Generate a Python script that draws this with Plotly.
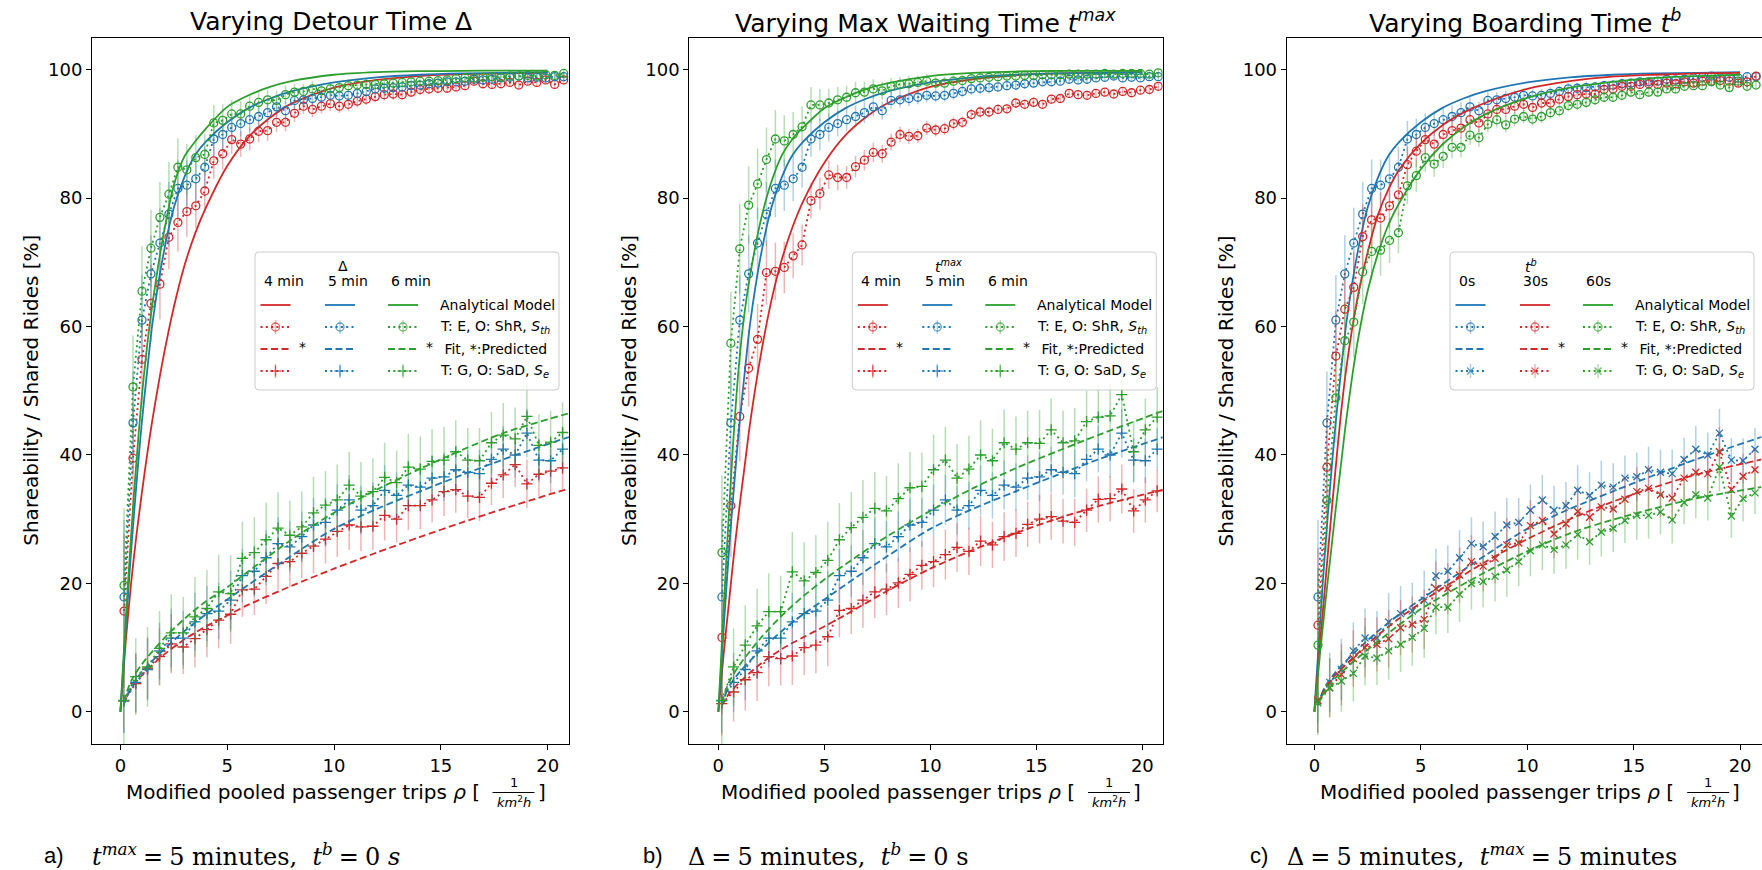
import plotly.graph_objects as go

W, H = 1762, 870
RED, BLUE, GREEN = "#d62728", "#1f77b4", "#2ca02c"
ECOL = {RED: "rgba(214,39,40,0.35)", BLUE: "rgba(31,119,180,0.35)", GREEN: "rgba(44,160,44,0.35)"}
FONT = "DejaVu Sans"

X_TICKS = [0, 5, 10, 15, 20]
Y_TICKS = [0, 20, 40, 60, 80, 100]

# x positions of the series
X_SHR = [0.17, 0.59, 1.01, 1.43, 1.85, 2.27, 2.69, 3.11, 3.53, 3.95,
         4.37, 4.79, 5.21, 5.63, 6.05, 6.47, 6.89, 7.31, 7.73, 8.15,
         8.57, 8.99, 9.41, 9.83, 10.25, 10.67, 11.09, 11.51, 11.93, 12.35,
         12.77, 13.19, 13.61, 14.03, 14.45, 14.87, 15.29, 15.71, 16.13, 16.55,
         16.97, 17.39, 17.81, 18.23, 18.65, 19.07, 19.49, 19.91, 20.33, 20.75]
X_SAD = [0.16, 0.72, 1.27, 1.83, 2.38, 2.94, 3.49, 4.05, 4.60, 5.16,
         5.71, 6.27, 6.82, 7.38, 7.93, 8.49, 9.04, 9.60, 10.15, 10.71,
         11.26, 11.82, 12.37, 12.93, 13.48, 14.04, 14.59, 15.15, 15.70, 16.26,
         16.81, 17.37, 17.92, 18.48, 19.03, 19.59, 20.14, 20.70]
X_MODEL = [0, 0.25, 0.5, 0.75, 1, 1.25, 1.5, 2, 2.5, 3, 3.5, 4, 5, 6, 7, 8, 10, 12, 14, 16, 18, 20]
X_FIT = [0.15, 0.5, 1, 2, 3, 4, 5, 6, 8, 10, 12, 14, 16, 18, 21]

# baseline (Delta=5 min, t_max=5 min, t_b=0 s) - shared by all panels
MODEL_BASE = [0, 13, 25, 35.5, 45, 53, 60.5, 71, 78.5, 83.3, 86.7, 88.8, 91.8, 94.0, 95.5, 96.6, 98.0, 98.8, 99.2, 99.4, 99.5, 99.6]
SHR_BASE = [17.9, 45.0, 61.0, 68.2, 73.0, 77.5, 81.5, 82.0, 83.0, 84.8,
            89.2, 89.9, 91.0, 91.6, 92.2, 92.7, 93.3, 94.2, 93.6, 95.2,
            95.3, 95.5, 95.7, 96.0, 95.9, 96.0, 96.3, 96.6, 97.0, 97.1,
            97.2, 97.3, 97.5, 97.6, 97.8, 97.9, 98.1, 98.1, 98.2, 98.5,
            98.4, 98.5, 98.7, 98.8, 99.0, 98.7, 98.8, 98.7, 98.9, 98.9]
FIT_BASE = [1.1, 3.9, 6.2, 9.6, 12.6, 15.2, 17.5, 19.8, 24.3, 28.5, 31.6, 34.3, 36.9, 39.4, 42.8]
SAD_BASE = [1.7, 4.6, 6.6, 9.5, 11.5, 11.5, 14.0, 15.3, 15.7, 17.4,
            21.2, 21.9, 24.0, 26.2, 25.7, 27.3, 29.1, 29.5, 31.4, 33.0,
            31.4, 32.1, 34.5, 33.7, 35.3, 35.0, 36.4, 36.6, 37.7, 37.3,
            37.1, 39.3, 40.9, 40.0, 43.4, 39.2, 39.1, 40.9]

# panel a: detour 4 min (red) / 6 min (green)
MODEL_D4 = [0, 11, 20, 27.5, 34, 40, 45.5, 55, 63, 69.5, 74.5, 78.5, 85, 89.5, 92.5, 94.7, 97.2, 98.4, 99.0, 99.3, 99.4, 99.5]
SHR_D4 = [15.7, 39.5, 54.9, 63.6, 66.6, 73.9, 76.2, 77.9, 78.8, 81.1,
          85.8, 86.9, 89.1, 88.4, 89.2, 90.4, 90.5, 91.8, 91.8, 93.2,
          94.3, 93.8, 94.3, 94.7, 94.3, 94.6, 95.1, 95.4, 95.8, 96.1,
          96.2, 96.1, 96.5, 96.9, 97.0, 97.1, 97.1, 97.3, 97.5, 98.2,
          97.8, 97.7, 97.8, 98.0, 97.6, 98.2, 98.0, 98.4, 97.7, 98.4]
FIT_D4 = [1.2, 3.6, 5.7, 8.8, 11.3, 13.3, 15.0, 16.7, 19.6, 22.3, 24.8, 27.2, 29.5, 31.7, 34.8]
SAD_D4 = [1.7, 4.4, 6.8, 8.6, 10.6, 10.1, 11.4, 12.8, 14.3, 15.2,
          19.0, 19.1, 21.1, 23.1, 23.4, 24.7, 25.8, 26.9, 28.1, 29.1,
          28.8, 28.9, 30.6, 30.0, 32.1, 32.1, 33.0, 34.3, 34.6, 33.6,
          33.4, 35.6, 36.9, 38.5, 35.5, 37.0, 37.5, 38.0]
MODEL_D6 = [0, 14.5, 27.5, 39, 49, 57, 63.5, 74, 82, 86.5, 88.8, 90.8, 94.2, 96.0, 97.3, 98.2, 99.2, 99.6, 99.75, 99.8, 99.85, 99.85]
SHR_D6 = [19.7, 50.6, 65.5, 72.2, 77.0, 80.6, 84.8, 84.4, 86.3, 86.8,
          91.7, 92.1, 93.1, 93.1, 94.3, 94.9, 95.3, 95.2, 96.1, 96.5,
          96.6, 97.0, 96.7, 97.0, 97.2, 97.5, 97.6, 97.7, 97.7, 97.8,
          97.9, 98.0, 98.1, 98.2, 98.2, 98.3, 98.4, 98.6, 98.7, 98.7,
          98.8, 98.9, 98.8, 99.0, 99.0, 99.1, 99.0, 99.2, 99.1, 99.4]
FIT_D6 = [1.6, 4.8, 7.4, 11.3, 14.5, 17.2, 19.4, 21.9, 26.8, 31.0, 34.6, 37.8, 40.8, 43.5, 46.5]
SAD_D6 = [1.8, 5.5, 7.0, 9.9, 12.3, 12.3, 14.8, 16.1, 18.7, 18.4,
          23.9, 24.8, 26.8, 28.6, 27.5, 28.8, 31.0, 32.2, 33.0, 35.3,
          33.6, 34.3, 36.5, 35.7, 38.1, 37.8, 39.0, 39.2, 40.5, 39.2,
          39.1, 41.9, 43.1, 42.5, 46.0, 41.5, 42.0, 43.5]

# panel b: max waiting 4 min (red) / 6 min (green)
MODEL_W4 = [0, 9, 17, 25, 32, 38.5, 45, 55.5, 64, 70.5, 75.5, 79.5, 85.5, 89.8, 92.7, 94.8, 97.3, 98.5, 99.1, 99.4, 99.5, 99.6]
SHR_W4 = [11.6, 32.1, 46.0, 53.5, 58.0, 68.4, 68.6, 69.2, 71.0, 72.7,
          79.6, 80.7, 83.6, 83.2, 83.2, 84.9, 85.9, 87.1, 86.9, 88.7,
          89.9, 89.6, 89.7, 90.9, 90.6, 90.8, 91.6, 91.8, 93.0, 93.4,
          93.4, 93.8, 93.9, 94.8, 94.6, 94.9, 94.6, 95.4, 95.5, 96.3,
          96.1, 96.0, 96.3, 96.5, 96.2, 96.6, 96.4, 96.8, 96.9, 97.4]
FIT_W4 = [0.9, 2.8, 4.6, 7.5, 9.8, 11.6, 13.3, 15.1, 18.9, 22.3, 25.2, 27.8, 30.1, 32.1, 34.6]
SAD_W4 = [1.3, 3.1, 5.0, 6.1, 8.6, 8.3, 8.7, 10.0, 10.4, 11.7,
          15.8, 16.1, 17.4, 18.7, 19.1, 20.1, 21.4, 22.8, 23.4, 24.5,
          25.6, 25.0, 26.6, 26.0, 27.3, 27.8, 29.2, 30.0, 30.4, 29.7,
          29.5, 31.4, 33.1, 33.2, 34.7, 31.3, 33.0, 34.4]
MODEL_W6 = [0, 16, 31, 44.5, 55, 62.5, 68, 76.5, 82.5, 86.7, 89.2, 91.0, 94.0, 95.7, 97.0, 97.9, 99.0, 99.5, 99.7, 99.8, 99.8, 99.8]
SHR_W6 = [24.8, 57.4, 72.1, 78.9, 82.2, 86.0, 89.2, 88.9, 89.9, 91.1,
          94.5, 94.5, 94.8, 95.3, 95.7, 96.4, 96.5, 97.0, 96.7, 97.4,
          97.7, 97.8, 98.0, 98.2, 97.9, 97.9, 98.2, 98.3, 98.6, 98.7,
          98.8, 98.9, 99.0, 99.0, 99.1, 99.1, 99.2, 99.2, 99.2, 99.3,
          99.3, 99.3, 99.3, 99.4, 99.3, 99.4, 99.4, 99.4, 99.3, 99.5]
FIT_W6 = [1.4, 4.6, 7.3, 11.5, 15.0, 18.0, 20.6, 23.0, 27.4, 31.3, 34.8, 37.9, 40.6, 43.2, 46.9]
SAD_W6 = [1.8, 7.0, 10.4, 13.4, 15.6, 15.6, 21.8, 20.4, 21.7, 23.6,
          26.8, 28.7, 30.3, 31.7, 31.3, 33.2, 34.9, 35.1, 37.7, 39.2,
          36.4, 37.8, 40.0, 39.1, 41.9, 40.9, 41.9, 41.8, 43.9, 41.9,
          42.2, 45.2, 45.9, 46.1, 49.4, 40.5, 43.9, 45.9]

# panel c: boarding 30 s (red) / 60 s (green)
MODEL_B30 = [0, 10, 19.5, 29, 38, 46.5, 53.5, 64, 71.5, 77.5, 81.5, 84.5, 88.5, 91.3, 93.3, 94.8, 97.0, 98.2, 98.9, 99.2, 99.4, 99.5]
SHR_B30 = [13.5, 38.1, 55.4, 62.7, 66.1, 74.0, 76.6, 76.9, 78.8, 80.5,
           85.2, 87.3, 89.1, 88.4, 89.9, 90.5, 90.9, 92.2, 91.7, 93.1,
           93.8, 93.8, 94.3, 94.6, 94.1, 94.8, 94.8, 95.4, 95.8, 96.1,
           96.2, 96.2, 96.9, 97.0, 97.4, 97.4, 97.7, 97.8, 97.7, 97.9,
           97.8, 98.1, 97.9, 98.2, 98.2, 98.3, 98.2, 97.9, 98.1, 99.0]
FIT_B30 = [1.1, 3.6, 5.8, 9.0, 12.0, 14.6, 17.0, 19.2, 23.3, 26.9, 30.0, 32.7, 35.0, 37.0, 39.3]
SAD_B30 = [1.8, 3.75, 5.8, 8.3, 10.0, 10.5, 11.4, 13.1, 13.6, 14.4,
           19.2, 19.2, 21.3, 23.4, 22.7, 23.9, 26.0, 26.3, 29.0, 29.8,
           27.7, 29.3, 31.2, 30.3, 31.9, 31.6, 33.1, 34.3, 34.8, 33.8,
           33.3, 36.4, 37.3, 37.1, 40.5, 34.6, 36.7, 37.7]
MODEL_B60 = [0, 8.5, 16.5, 24, 31.5, 38.5, 45.5, 57, 65.5, 71.5, 76, 79.3, 84.5, 88.3, 91, 93, 95.6, 97.2, 98.1, 98.7, 99.0, 99.2]
SHR_B60 = [10.4, 32.9, 48.9, 57.8, 60.7, 68.5, 71.7, 71.9, 73.4, 74.6,
           81.9, 83.5, 86.3, 85.3, 86.5, 87.9, 87.9, 89.8, 89.4, 91.5,
           92.2, 91.4, 92.3, 92.7, 92.3, 92.7, 93.3, 93.6, 94.4, 94.6,
           94.9, 95.3, 95.7, 95.7, 96.0, 96.5, 96.1, 96.5, 96.5, 97.0,
           97.0, 97.4, 97.5, 97.5, 98.1, 97.6, 97.2, 98.2, 97.4, 97.6]
FIT_B60 = [1.0, 3.3, 5.3, 8.3, 11.0, 13.6, 16.0, 18.0, 21.7, 25.0, 27.8, 29.9, 31.7, 33.3, 35.0]
SAD_B60 = [1.4, 3.75, 4.8, 6.0, 8.7, 8.4, 9.5, 10.5, 11.6, 13.0,
           16.3, 16.3, 18.3, 20.0, 20.3, 21.1, 22.1, 23.4, 25.1, 26.0,
           25.3, 26.0, 27.6, 26.5, 28.0, 28.6, 29.8, 30.6, 30.6, 31.1,
           29.9, 32.6, 33.8, 33.3, 38.1, 30.5, 33.2, 34.1]

# error bars (half-widths)
ERR_SHR = [12, 8, 7, 6, 5.5, 5, 4.5, 4, 3.5, 3.2,
           2.8, 2.5, 2.2, 2.0, 1.8, 1.7, 1.6, 1.5, 1.4, 1.3,
           1.2, 1.2, 1.1, 1.1, 1.0, 1.0, 1.0, 0.9, 0.9, 0.9,
           0.9, 0.8, 0.8, 0.8, 0.8, 0.8, 0.7, 0.7, 0.7, 0.7,
           0.7, 0.7, 0.6, 0.6, 0.6, 0.6, 0.6, 0.6, 0.6, 0.6]
ERR_SAD = [5.0, 4.6, 4.8, 4.4, 4.6, 4.2, 4.5, 4.3, 4.4, 4.6,
           4.2, 4.0, 4.3, 4.1, 4.0, 3.9, 4.2, 3.8, 4.0, 3.9,
           3.8, 3.7, 3.9, 3.6, 3.8, 3.7, 3.5, 3.8, 3.6, 3.5,
           3.7, 3.4, 3.6, 3.5, 3.8, 3.4, 3.5, 3.3]
ERR_SAD_WIDE = [7.0, 6.0, 6.2, 5.8, 6.0, 5.6, 6.2, 6.0, 5.8, 6.0,
                5.7, 5.5, 5.8, 5.6, 5.4, 5.5, 5.6, 5.3, 5.5, 5.2,
                5.3, 5.2, 5.4, 5.0, 5.2, 5.1, 5.0, 5.2, 4.9, 5.0,
                5.1, 4.8, 5.0, 4.9, 5.2, 4.8, 4.9, 4.7]

TITLES = ["Varying Detour Time Δ",
          "Varying Max Waiting Time <i>t</i><sup><i>max</i></sup>",
          "Varying Boarding Time <i>t</i><sup><i>b</i></sup>"]
LEG_HEAD = ["Δ", "<i>t</i><sup><i>max</i></sup>", "<i>t</i><sup><i>b</i></sup>"]
LEG_COLS = [["4 min", "5 min", "6 min"], ["4 min", "5 min", "6 min"], ["0s", "30s", "60s"]]
LEG_LABELS = ["Analytical Model", "T: E, O: ShR, <i>S</i><sub><i>th</i></sub>",
              " Fit, *:Predicted", "T: G, O: SaD, <i>S</i><sub><i>e</i></sub>"]
CAP_LETTER = ["a)", "b)", "c)"]
SP = "\u2005"  # math-like spacing around '='
CAP_TEXT = [f"<i>t</i><sup><i>max</i></sup>{SP}={SP}5 minutes,  <i>t</i><sup><i>b</i></sup>{SP}={SP}0 <i>s</i>",
            f"Δ{SP}={SP}5 minutes,  <i>t</i><sup><i>b</i></sup>{SP}={SP}0 s",
            f"Δ{SP}={SP}5 minutes,  <i>t</i><sup><i>max</i></sup>{SP}={SP}5 minutes"]

# series per panel: (color, model, shr, fit, sad, sad_err, predicted)
PANEL_SERIES = [
    [(RED, MODEL_D4, SHR_D4, FIT_D4, SAD_D4, ERR_SAD, True),
     (BLUE, MODEL_BASE, SHR_BASE, FIT_BASE, SAD_BASE, ERR_SAD, False),
     (GREEN, MODEL_D6, SHR_D6, FIT_D6, SAD_D6, ERR_SAD_WIDE, True)],
    [(RED, MODEL_W4, SHR_W4, FIT_W4, SAD_W4, ERR_SAD, True),
     (BLUE, MODEL_BASE, SHR_BASE, FIT_BASE, SAD_BASE, ERR_SAD, False),
     (GREEN, MODEL_W6, SHR_W6, FIT_W6, SAD_W6, ERR_SAD_WIDE, True)],
    [(BLUE, MODEL_BASE, SHR_BASE, FIT_BASE, SAD_BASE, ERR_SAD, False),
     (RED, MODEL_B30, SHR_B30, FIT_B30, SAD_B30, ERR_SAD, True),
     (GREEN, MODEL_B60, SHR_B60, FIT_B60, SAD_B60, ERR_SAD, True)],
]
SAD_SYMBOL = ["cross-thin-open", "cross-thin-open", "x-thin-open"]
SAD_SIZE = [8, 8, 7]

# ---------- layout geometry (pixels) ----------
AX_L = [92, 689.3, 1286.7]
AX_R = [569, 1162.7, 1762]
AX_T, AX_B = 37.5, 744
X_RANGES = [[-1.33, 21.0], [-1.37, 20.96], [-1.3, 21.03]]
LEG_L = [255, 852.3, 1450]
LEG_HEAD_DX = [88, 96, 81]
DOT = "2px,3.3px"
DASH = "7px,3.5px"
LW = 1.8


def px(x):
    return x / W


def py(y):
    return 1 - y / H


fig = go.Figure()
annotations = []
shapes = []


def ann(text, x, y, size, xanchor="center", yanchor="middle", family=FONT, angle=0):
    annotations.append(dict(text=text, x=px(x), y=py(y), xref="paper", yref="paper",
                            showarrow=False, xanchor=xanchor, yanchor=yanchor, textangle=angle,
                            font=dict(family=family, size=size, color="black")))


for p in range(3):
    xa = "x" if p == 0 else f"x{p + 1}"
    ya = "y" if p == 0 else f"y{p + 1}"
    for (col, model, shr, fit, sad, sad_err, pred) in PANEL_SERIES[p]:
        fig.add_trace(go.Scatter(x=X_MODEL, y=model, mode="lines", xaxis=xa, yaxis=ya,
                                 line=dict(color=col, width=LW, shape="spline", smoothing=0.8),
                                 showlegend=False, hoverinfo="skip"))
        fig.add_trace(go.Scatter(x=X_SHR, y=shr, mode="lines+markers", xaxis=xa, yaxis=ya,
                                 line=dict(color=col, width=LW, dash=DOT),
                                 marker=dict(symbol="circle-open", size=8, color=col, line=dict(width=1.3, color=col)),
                                 error_y=dict(type="data", array=ERR_SHR, color=ECOL[col], thickness=1.5, width=0),
                                 showlegend=False, hoverinfo="skip"))
        fig.add_trace(go.Scatter(x=X_FIT, y=fit, mode="lines", xaxis=xa, yaxis=ya,
                                 line=dict(color=col, width=LW, dash=DASH, shape="spline", smoothing=0.8),
                                 showlegend=False, hoverinfo="skip"))
        fig.add_trace(go.Scatter(x=X_SAD, y=sad, mode="lines+markers", xaxis=xa, yaxis=ya,
                                 line=dict(color=col, width=LW, dash=DOT),
                                 marker=dict(symbol=SAD_SYMBOL[p], size=SAD_SIZE[p], color=col,
                                             line=dict(width=1.3, color=col)),
                                 error_y=dict(type="data", array=sad_err, color=ECOL[col], thickness=1.5, width=0),
                                 showlegend=False, hoverinfo="skip"))

    # ---- titles / axis labels / captions ----
    cx = (AX_L[p] + AX_R[p]) / 2 if p < 2 else (AX_L[p] + AX_L[p] + 477) / 2
    ann(TITLES[p], cx, 21, 25)
    ann("Shareability / Shared Rides [%]", AX_L[p] - 61, (AX_T + AX_B) / 2, 20, angle=-90)
    ann("Modified pooled passenger trips <i>ρ</i> [", cx + 151, 792, 20, xanchor="right")
    ann("1", cx + 183, 782, 13)
    ann("<i>km</i><sup>2</sup><i>h</i>", cx + 183, 802, 13)
    shapes.append(dict(type="line", xref="paper", yref="paper", x0=px(cx + 162), x1=px(cx + 204),
                       y0=py(792.5), y1=py(792.5), line=dict(color="black", width=1)))
    ann("]", cx + 205, 792, 20, xanchor="left")
    cap_x = [42, 641, 1248][p]
    cap_f = [90, 686, 1285][p]
    ann(CAP_LETTER[p], cap_x, 855, 22, xanchor="left", family="Liberation Sans")
    ann(CAP_TEXT[p], cap_f, 855, 24, xanchor="left", family="DejaVu Serif")

    # ---- legend (drawn in pixel space on overlay axes) ----
    L = LEG_L[p]
    T, B, R = 252, 390, LEG_L[p] + 304
    r = 4
    path = (f"M{L + r},{T} L{R - r},{T} Q{R},{T} {R},{T + r} L{R},{B - r} Q{R},{B} {R - r},{B} "
            f"L{L + r},{B} Q{L},{B} {L},{B - r} L{L},{T + r} Q{L},{T} {L + r},{T} Z")
    shapes.append(dict(type="path", path=path, xref="x4", yref="y4", layer="below",
                       line=dict(color="#cccccc", width=1), fillcolor="rgba(255,255,255,0.8)"))
    ann(LEG_HEAD[p], L + LEG_HEAD_DX[p], 266, 14)
    rows = [305, 327, 349, 371]
    cols = [L + 5.5, L + 70, L + 133]
    for ci, (col, *_rest) in enumerate(PANEL_SERIES[p]):
        c0 = cols[ci]
        pred = PANEL_SERIES[p][ci][6]
        ann(LEG_COLS[p][ci], c0 + 1, 281, 14, xanchor="left")
        fig.add_trace(go.Scatter(x=[c0, c0 + 30], y=[rows[0]] * 2, mode="lines", xaxis="x4", yaxis="y4",
                                 line=dict(color=col, width=LW), showlegend=False, hoverinfo="skip"))
        for ri, sym, sz in ((1, "circle-open", 8), (3, SAD_SYMBOL[p], SAD_SIZE[p])):
            fig.add_trace(go.Scatter(x=[c0, c0 + 15, c0 + 30], y=[rows[ri]] * 3, mode="lines+markers",
                                     xaxis="x4", yaxis="y4",
                                     line=dict(color=col, width=LW, dash=DOT),
                                     marker=dict(symbol=sym, size=[0, sz, 0], color=col,
                                                 line=dict(width=1.3, color=col)),
                                     error_y=dict(type="data", array=[0, 7, 0], color=ECOL[col], thickness=1.5, width=0),
                                     showlegend=False, hoverinfo="skip"))
        fig.add_trace(go.Scatter(x=[c0, c0 + 30], y=[rows[2]] * 2, mode="lines", xaxis="x4", yaxis="y4",
                                 line=dict(color=col, width=LW, dash=DASH), showlegend=False, hoverinfo="skip"))
        if pred:
            ann("*", c0 + 36, rows[2] - 2, 14, xanchor="left")
    for ri, lab in enumerate(LEG_LABELS):
        ann(lab, L + 182.5, rows[ri], 14, xanchor="left")

layout = dict(width=W, height=H, autosize=False, margin=dict(l=0, r=0, t=0, b=0, pad=0),
              paper_bgcolor="white", plot_bgcolor="rgba(0,0,0,0)", showlegend=False,
              annotations=annotations, shapes=shapes, font=dict(family=FONT, color="black"))
for p in range(3):
    sx = "" if p == 0 else str(p + 1)
    layout["xaxis" + sx] = dict(domain=[px(AX_L[p]), min(1.0, px(AX_R[p]))], range=X_RANGES[p],
                                anchor="y" + sx, tickvals=X_TICKS, ticks="outside", ticklen=5, tickwidth=1.1,
                                tickcolor="black", showline=True, mirror=True, linecolor="black", linewidth=1.1,
                                showgrid=False, zeroline=False, tickfont=dict(family=FONT, size=18, color="black"),
                                fixedrange=True)
    layout["yaxis" + sx] = dict(domain=[py(AX_B), py(AX_T)], range=[-5, 105], anchor="x" + sx,
                                tickvals=Y_TICKS, ticks="outside", ticklen=5, tickwidth=1.1, tickcolor="black",
                                showline=True, mirror=True, linecolor="black", linewidth=1.1, showgrid=False,
                                zeroline=False, tickfont=dict(family=FONT, size=18, color="black"),
                                fixedrange=True)
layout["xaxis4"] = dict(domain=[0, 1], range=[0, W], anchor="y4", visible=False, fixedrange=True)
layout["yaxis4"] = dict(domain=[0, 1], range=[H, 0], anchor="x4", visible=False, fixedrange=True)

fig.update_layout(**layout)
fig.write_html("out.html")
